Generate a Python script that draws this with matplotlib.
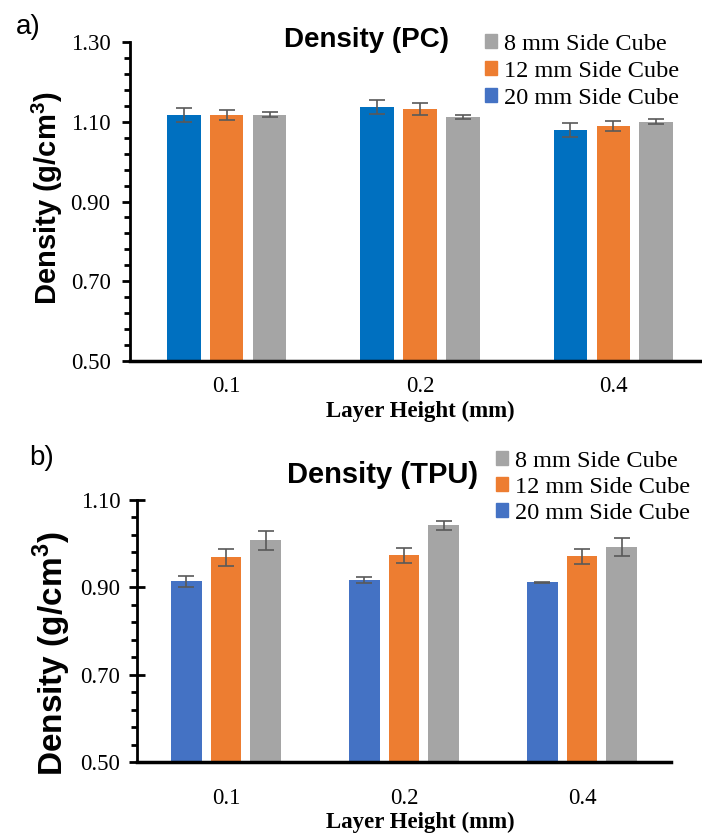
import numpy as np
import matplotlib.pyplot as plt
from matplotlib.patches import Patch

# data
layers = ['0.1', '0.2', '0.4']
sizes = ['20 mm Side Cube', '12 mm Side Cube', '8 mm Side Cube']

pc_mean = [[1.117, 1.137, 1.079],   # 20 mm
           [1.117, 1.132, 1.089],   # 12 mm
           [1.118, 1.113, 1.100]]   # 8 mm
pc_err = [[0.018, 0.017, 0.018],
          [0.013, 0.014, 0.013],
          [0.006, 0.005, 0.006]]
pc_yticks = [0.50, 0.70, 0.90, 1.10, 1.30]

tpu_mean = [[0.914, 0.916, 0.912],
            [0.969, 0.973, 0.971],
            [1.008, 1.042, 0.992]]
tpu_err = [[0.013, 0.007, 0.001],
           [0.019, 0.018, 0.017],
           [0.022, 0.010, 0.021]]
tpu_yticks = [0.50, 0.70, 0.90, 1.10]

pc_colors = ['#0070C0', '#ED7D31', '#A5A5A5']
tpu_colors = ['#4472C4', '#ED7D31', '#A5A5A5']
legend_colors = ['#A5A5A5', '#ED7D31', '#4472C4']

W, H = 702, 833
fig = plt.figure(figsize=(W / 100, H / 100), dpi=100)
plt.rcParams['mathtext.fontset'] = 'custom'
plt.rcParams['mathtext.bf'] = 'Liberation Sans:bold'


def px(x, y):
    return x / W, 1 - y / H


def draw(box, means, errs, colors, yticks, title, title_xy, tsize, leg_xy,
         lspace, ylab_xy, ysize, xlab_xy, xpad, cross):
    x0, y0, x1, y1 = box
    ax = fig.add_axes([*px(x0, y1), (x1 - x0) / W, (y1 - y0) / H])
    x = np.arange(len(layers))
    for i in range(3):
        ax.bar(x + (i - 1) * 0.222, means[i], width=0.174, color=colors[i],
               yerr=errs[i], capsize=6,
               error_kw=dict(ecolor='#595959', elinewidth=1.2, capthick=1.2))
    ax.set_xlim(-0.5, 2.5)
    ax.set_ylim(yticks[0], yticks[-1])
    ax.set_yticks(yticks, [f'{v:.2f}' for v in yticks])
    ax.set_yticks(np.arange(yticks[0], yticks[-1] + 0.001, 0.04), minor=True)
    ax.set_xticks(x, layers)
    for s in ['top', 'right']:
        ax.spines[s].set_visible(False)
    ax.spines['left'].set_linewidth(2)
    ax.spines['bottom'].set_linewidth(2.5)
    ax.tick_params(axis='x', length=0, pad=xpad)
    if cross:
        ax.tick_params(axis='y', which='major', length=12, width=2,
                       direction='inout', pad=6)
    else:
        ax.tick_params(axis='y', which='major', length=6, width=2,
                       direction='out', pad=8)
    ax.tick_params(axis='y', which='minor', length=4, width=2)
    for t in ax.get_xticklabels() + ax.get_yticklabels():
        t.set_fontfamily('Liberation Serif')
        t.set_fontsize(16.5)

    fig.text(*px(*title_xy), title, ha='center', va='center',
             fontfamily='Liberation Sans', fontweight='bold', fontsize=tsize)
    fig.text(*px(*ylab_xy), 'Density (g/cm$^\\mathbf{3}$)', rotation=90,
             ha='center', va='center', fontfamily='Liberation Sans',
             fontweight='bold', fontsize=ysize)
    fig.text(*px(*xlab_xy), 'Layer Height (mm)', ha='center', va='center',
             fontfamily='Liberation Serif', fontweight='bold', fontsize=16.5)
    handles = [Patch(color=c) for c in legend_colors]
    fig.legend(handles, sizes[::-1], loc='upper left',
               bbox_to_anchor=px(*leg_xy), frameon=False,
               prop=dict(family='Liberation Serif', size=17.5),
               handlelength=0.5, handleheight=0.5, handletextpad=0.3,
               labelspacing=lspace, borderaxespad=0, borderpad=0)
    return ax


draw((130, 42, 710, 361), pc_mean, pc_err, pc_colors, pc_yticks,
     'Density (PC)', (366, 40), 20, (485, 34), 0.24, (47, 198), 21,
     (420, 411), 11, cross=False)
draw((137, 500, 671, 762), tpu_mean, tpu_err, tpu_colors, tpu_yticks,
     'Density (TPU)', (383, 475), 21, (496, 451), 0.2, (52, 654), 24,
     (420, 822), 19, cross=True)

fig.text(*px(28, 27), 'a)', ha='center', va='center',
         fontfamily='Liberation Sans', fontsize=20)
fig.text(*px(42, 458), 'b)', ha='center', va='center',
         fontfamily='Liberation Sans', fontsize=20)

fig.savefig('out.png', dpi=100)
